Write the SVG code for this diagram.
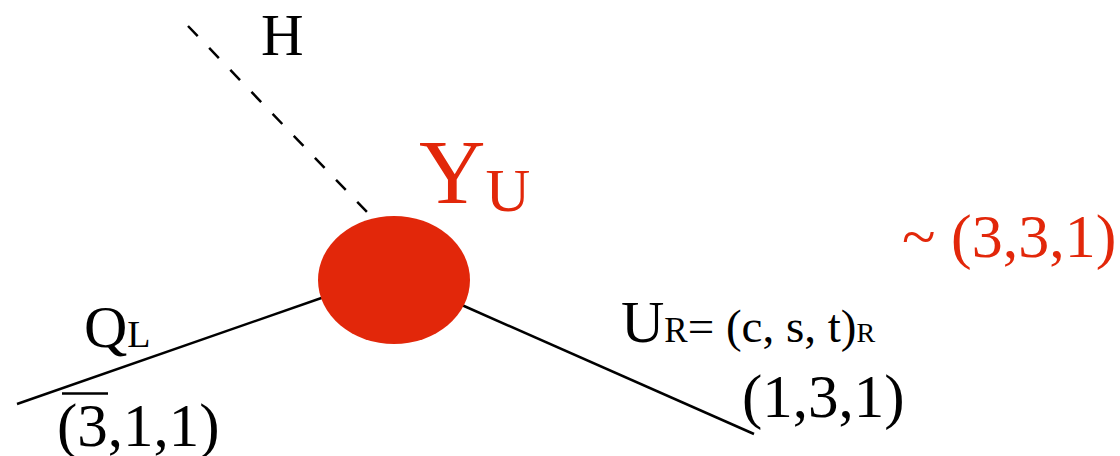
<svg xmlns="http://www.w3.org/2000/svg" width="1120" height="456" viewBox="0 0 1120 456">
<style>
text{font-family:"Liberation Serif","Times New Roman",serif;fill:#000}
.red{fill:#E2270A}
.ln{stroke:#000;stroke-width:2.5;fill:none}
.dash{stroke-dasharray:14 16.5}
</style>
<rect width="1120" height="456" fill="#fff"/>
<g id="connectors">
<line class="ln dash" x1="188" y1="26" x2="367" y2="212"/>
<line class="ln" x1="17" y1="404" x2="330" y2="295"/>
<line class="ln" x1="455" y1="302" x2="754" y2="434"/>
</g>
<g id="vertex">
<ellipse cx="394" cy="280" rx="76" ry="64" fill="#E2270A"/>
<text class="red" x="419" y="203" font-size="92">Y<tspan font-size="62" y="211">U</tspan></text>
</g>
<g id="higgs">
<text x="261" y="55" font-size="59">H</text>
</g>
<g id="QL">
<text x="84" y="347" font-size="60">Q<tspan font-size="38">L</tspan></text>
<text x="57" y="446" font-size="61">(3,1,1)</text>
<line x1="62" y1="393.5" x2="108" y2="393.5" stroke="#000" stroke-width="2.5"/>
</g>
<g id="UR">
<text x="621" y="342" font-size="60">U<tspan font-size="35">R</tspan><tspan font-size="47">= (c, s, t)</tspan><tspan font-size="28">R</tspan></text>
<text x="742" y="417" font-size="61">(1,3,1)</text>
</g>
<g id="rep">
<text class="red" x="902" y="257" font-size="62">~ (3,3,1)</text>
</g>
</svg>
